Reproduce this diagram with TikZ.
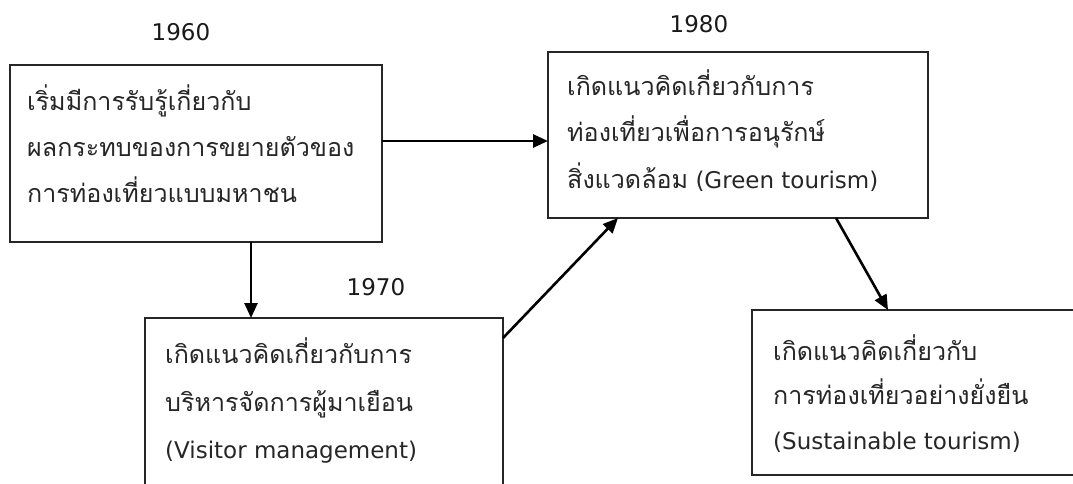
\documentclass[tikz,border=0pt]{standalone}
\usepackage{fontspec}
\setmainfont{DejaVu Sans}
\newfontfamily\thaifont[Script=Thai,Scale=1.09]{Loma}
\usetikzlibrary{arrows.meta}
\begin{document}
\begin{tikzpicture}[x=1pt,y=-1pt,
  box/.style={draw=black!85, line width=2.2pt, inner sep=0pt, outer sep=0pt, anchor=north west},
  txt/.style={anchor=base west, inner sep=0pt, text=black!85, font=\fontsize{23}{28}\selectfont},
  yr/.style={anchor=base, inner sep=0pt, text=black!90, font=\fontsize{23}{28}\selectfont},
  conn/.style={line width=2.6pt, draw=black, -{Triangle[length=15pt,width=13pt]}}]
\useasboundingbox (0,0) rectangle (1073,483);
\clip (0,0) rectangle (1073,483);
% boxes
\node[box, minimum width=372pt, minimum height=177pt] (a) at (10,65) {};
\node[box, minimum width=380pt, minimum height=166pt] (b) at (548,52) {};
\node[box, minimum width=358pt, minimum height=210pt] (c) at (145,318) {};
\node[box, minimum width=340pt, minimum height=165pt] (d) at (752,310) {};
% years
\node[yr] (y60) at (181,40) {1960};
\node[yr] (y80) at (699,32) {1980};
\node[yr] (y70) at (376,295) {1970};
% box a text
\node[txt] (a1) at (27,110) {\thaifont เริ่มมีการรับรู้เกี่ยวกับ};
\node[txt] (a2) at (27,156) {\thaifont ผลกระทบของการขยายตัวของ};
\node[txt] (a3) at (27,202) {\thaifont การท่องเที่ยวแบบมหาชน};
% box b text
\node[txt] (b1) at (567,95) {\thaifont เกิดแนวคิดเกี่ยวกับการ};
\node[txt] (b2) at (567,141) {\thaifont ท่องเที่ยวเพื่อการอนุรักษ์};
\node[txt] (b3) at (567,188) {{\thaifont สิ่งแวดล้อม} (Green tourism)};
% box c text
\node[txt] (c1) at (165,363) {\thaifont เกิดแนวคิดเกี่ยวกับการ};
\node[txt] (c2) at (165,411) {\thaifont บริหารจัดการผู้มาเยือน};
\node[txt] (c3) at (165,458) {(Visitor management)};
% box d text
\node[txt] (d1) at (773,360) {\thaifont เกิดแนวคิดเกี่ยวกับ};
\node[txt] (d2) at (773,404) {\thaifont การท่องเที่ยวอย่างยั่งยืน};
\node[txt] (d3) at (773,449) {(Sustainable tourism)};
% connectors
\draw[conn] (a.east |- 0,141) -- (b.west |- 0,141);
\draw[conn] (a.south -| 251,0) -- (c.north -| 251,0);
\draw[conn] ([yshift=-20pt]c.north east) -- (b.south -| 618,0);
\draw[conn] (b.south -| 836,0) -- (d.north -| 888,0);
\end{tikzpicture}
\end{document}
